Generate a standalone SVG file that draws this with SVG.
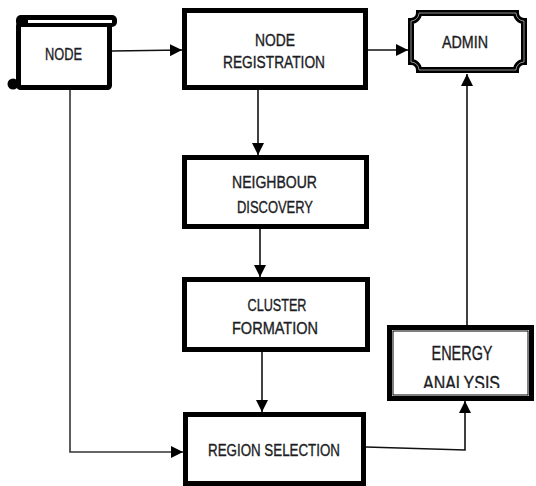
<svg xmlns="http://www.w3.org/2000/svg" width="536" height="486" viewBox="0 0 536 486">
  <style>
    .box { fill: #ffffff; stroke: #000000; stroke-width: 5; }
    .lbl { font-family: "Liberation Sans", Arial, sans-serif; font-size: 16px; fill: #1c1c24; stroke: #1c1c24; stroke-width: 0.35; text-anchor: middle; }
    .big { font-size: 20px; }
    .wire { fill: none; stroke: #111111; stroke-width: 1.6; }
    .wire-grey { fill: none; stroke: #333333; stroke-width: 1.6; }
  </style>
  <defs>
    <marker id="arrow" markerUnits="userSpaceOnUse" markerWidth="12" markerHeight="12" refX="12" refY="6" orient="auto">
      <path d="M0,0 L12,6 L0,12 Z" fill="#000000"/>
    </marker>
    <clipPath id="energyClip">
      <rect x="392" y="331" width="137" height="57"/>
    </clipPath>
  </defs>

  <!-- connectors -->
  <g id="connectors">
    <line class="wire" x1="112" y1="51" x2="182" y2="50" marker-end="url(#arrow)"/>
    <line class="wire" x1="367" y1="50" x2="408" y2="50" marker-end="url(#arrow)"/>
    <line class="wire" x1="258" y1="90" x2="258" y2="155" marker-end="url(#arrow)"/>
    <line class="wire" x1="260" y1="229" x2="260" y2="277" marker-end="url(#arrow)"/>
    <line class="wire" x1="262" y1="352" x2="262" y2="412" marker-end="url(#arrow)"/>
    <polyline class="wire-grey" points="70,89 70,452 183,452" marker-end="url(#arrow)"/>
    <polyline class="wire" points="366,447 465,450 465,401" marker-end="url(#arrow)"/>
    <line class="wire" x1="467" y1="325" x2="467" y2="74" marker-end="url(#arrow)"/>
  </g>

  <!-- scroll-shaped source node -->
  <g id="node-source">
    <rect x="18.5" y="24" width="91" height="63.5" rx="2" fill="#ffffff" stroke="#000000" stroke-width="5"/>
    <circle cx="13" cy="84" r="5.5" fill="#000000"/>
    <rect x="16" y="15" width="101" height="12" rx="5" fill="#000000"/>
    <line x1="28" y1="21.5" x2="112" y2="21.5" stroke="#ffffff" stroke-width="3"/>
    <text class="lbl" x="63.5" y="59.7" textLength="37" lengthAdjust="spacingAndGlyphs">NODE</text>
  </g>

  <g id="node-registration">
    <rect class="box" x="184.5" y="10.5" width="181" height="77"/>
    <text class="lbl" x="275" y="45.7" textLength="40" lengthAdjust="spacingAndGlyphs">NODE</text>
    <text class="lbl" x="274" y="67.7" textLength="102" lengthAdjust="spacingAndGlyphs">REGISTRATION</text>
  </g>

  <!-- plaque-shaped admin terminal -->
  <g id="admin">
    <path d="M419,13 H516 A8,8 0 0 0 524,21 V62 A8,8 0 0 0 516,70 H419 A8,8 0 0 0 411,62 V21 A8,8 0 0 0 419,13 Z" fill="#ffffff" stroke="#000000" stroke-width="6"/>
    <path d="M419,13 H516 A8,8 0 0 0 524,21 V62 A8,8 0 0 0 516,70 H419 A8,8 0 0 0 411,62 V21 A8,8 0 0 0 419,13 Z" fill="none" stroke="#ffffff" stroke-width="0.7" stroke-opacity="0.8"/>
    <text class="lbl" x="465" y="47.7" textLength="46" lengthAdjust="spacingAndGlyphs">ADMIN</text>
  </g>

  <g id="neighbour-discovery">
    <rect class="box" x="184.5" y="157.5" width="182" height="69"/>
    <text class="lbl" x="274.5" y="187.7" textLength="85" lengthAdjust="spacingAndGlyphs">NEIGHBOUR</text>
    <text class="lbl" x="275" y="212.7" textLength="76" lengthAdjust="spacingAndGlyphs">DISCOVERY</text>
  </g>

  <g id="cluster-formation">
    <rect class="box" x="184.5" y="279.5" width="183" height="70"/>
    <text class="lbl" x="277" y="310.7" textLength="59" lengthAdjust="spacingAndGlyphs">CLUSTER</text>
    <text class="lbl" x="275" y="333.7" textLength="86" lengthAdjust="spacingAndGlyphs">FORMATION</text>
  </g>

  <g id="energy-analysis">
    <rect class="box" x="389.5" y="327.5" width="142" height="71"/>
    <rect x="393" y="331" width="135" height="64" fill="none" stroke="#000000" stroke-width="1"/>
    <text class="lbl big" x="462" y="360" textLength="61" lengthAdjust="spacingAndGlyphs">ENERGY</text>
    <text class="lbl big" x="461.5" y="389.5" textLength="77" lengthAdjust="spacingAndGlyphs" clip-path="url(#energyClip)">ANALYSIS</text>
  </g>

  <g id="region-selection">
    <rect class="box" x="185.5" y="414.5" width="178" height="69"/>
    <text class="lbl" x="274" y="455.7" textLength="132" lengthAdjust="spacingAndGlyphs">REGION SELECTION</text>
  </g>
</svg>
